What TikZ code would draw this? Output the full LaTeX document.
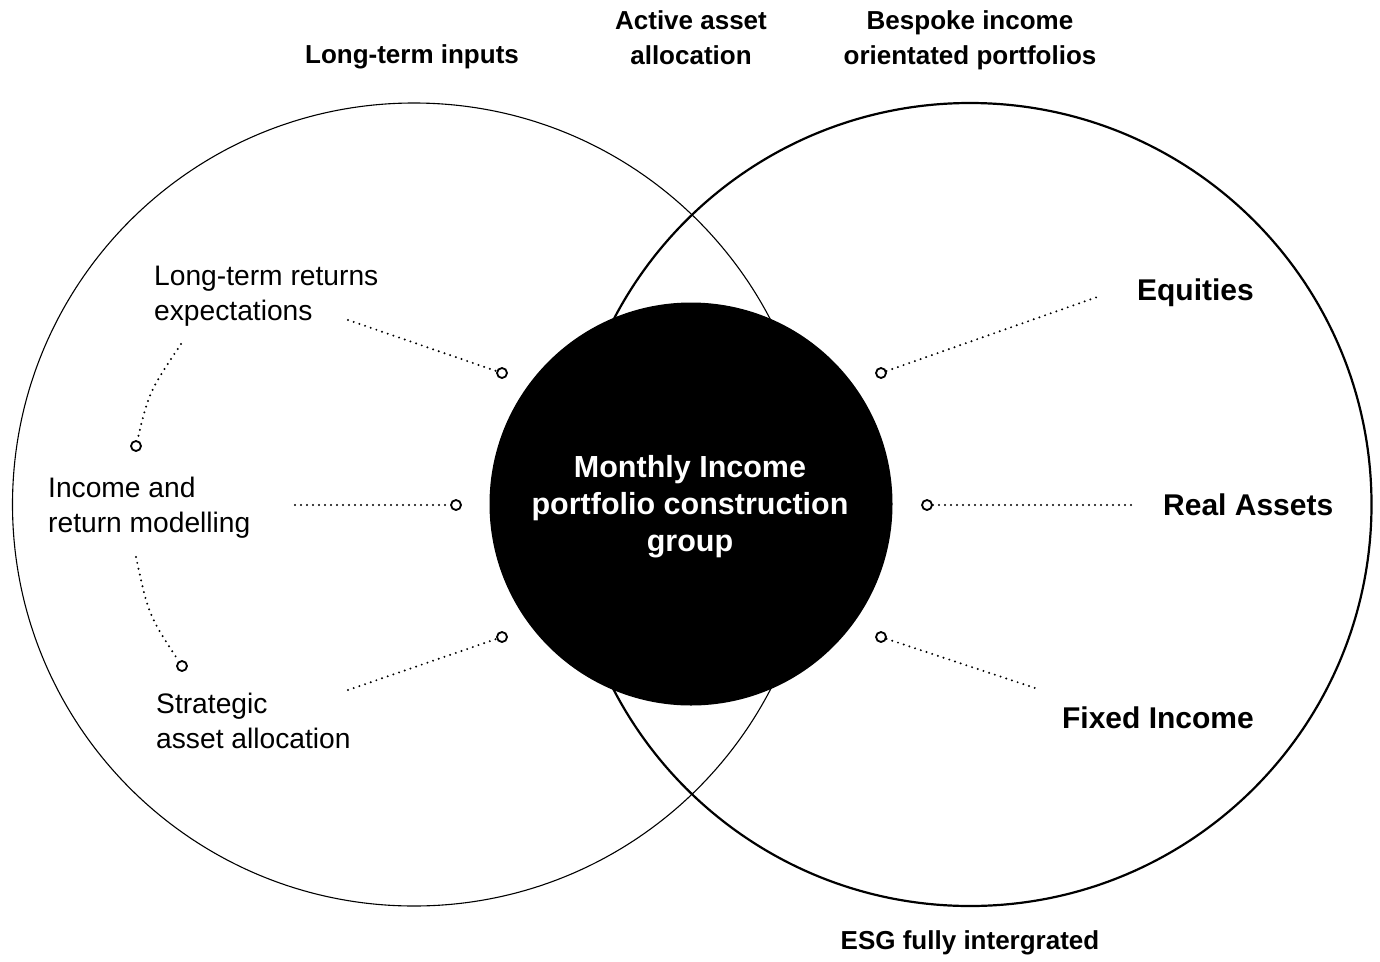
\documentclass[tikz,border=0pt]{standalone}
\usepackage{fontspec}
\setmainfont{Liberation Sans}
\begin{document}
\begin{tikzpicture}[x=1pt,y=-1pt,
  dotline/.style={line width=2.2pt, dash pattern=on 0pt off 6pt, line cap=round},
  pin/.style={circle, draw, line width=1.8pt, fill=white, minimum size=10pt, inner sep=0pt},
  toplab/.style={font=\bfseries\fontsize{26}{35}\selectfont, align=center, inner sep=0pt},
  leftlab/.style={font=\fontsize{28.2}{35}\selectfont, align=left, inner sep=0pt, anchor=west},
  rightlab/.style={font=\bfseries\fontsize{30}{36}\selectfont, inner sep=0pt},
]
\useasboundingbox (0,0) rectangle (1380,961);
% big circles
\draw[line width=1.1pt] (414,504.5) circle[radius=401.5pt];
\draw[line width=2.2pt] (970,504.5) circle[radius=401.5pt];
% core
\node[circle, fill=black, minimum size=403pt, inner sep=0pt] (core) at (691,504) {};
\node[text=white, font=\bfseries\fontsize{30.5}{37}\selectfont, align=center, inner sep=0pt] (coretext) at (690,507) {Monthly Income\\portfolio construction\\group};

% top / bottom labels
\node[toplab] (ltin) at (412,57) {Long-term inputs};
\node[toplab] (aaa) at (691,38) {Active asset\\allocation};
\node[toplab] (bio) at (970,40) {Bespoke income\\orientated portfolios};
\node[toplab] (esg) at (970,943) {ESG fully intergrated};

% left labels
\node[leftlab] (lre) at (154,296) {Long-term returns\\expectations};
\node[leftlab] (irm) at (48,508) {Income and\\return modelling};
\node[leftlab] (saa) at (156,721) {Strategic\\asset allocation};

% right labels
\node[rightlab, anchor=east] (eq) at (1254,293) {Equities};
\node[rightlab, anchor=west] (ra) at (1163,505) {Real Assets};
\node[rightlab, anchor=east] (fi) at (1254,718) {Fixed Income};

% pins
\node[pin] (pL1) at (502,373) {};
\node[pin] (pL2) at (456,505) {};
\node[pin] (pL3) at (502,637) {};
\node[pin] (pA) at (136,446) {};
\node[pin] (pB) at (182,666) {};
\node[pin] (pR1) at (881,373) {};
\node[pin] (pR2) at (927,505) {};
\node[pin] (pR3) at (881,637) {};

% free ends
\coordinate (cL1) at (348,320);
\coordinate (cL2) at (295,505);
\coordinate (cL3) at (348,690);
\coordinate (cA) at (181,344);
\coordinate (cB) at (136,557);
\coordinate (cR1) at (1100,296);
\coordinate (cR2) at (1131,505);
\coordinate (cR3) at (1035,688);

% dotted connectors
\draw[dotline] (cL1) -- (pL1);
\draw[dotline] (cL2) -- (pL2);
\draw[dotline] (cL3) -- (pL3);
\draw[dotline] (cA) .. controls (149,392) .. (pA);
\draw[dotline] (cB) .. controls (148.5,615) .. (pB);
\draw[dotline] (pR1) -- (cR1);
\draw[dotline] (pR2) -- (cR2);
\draw[dotline] (pR3) -- (cR3);
\end{tikzpicture}
\end{document}
